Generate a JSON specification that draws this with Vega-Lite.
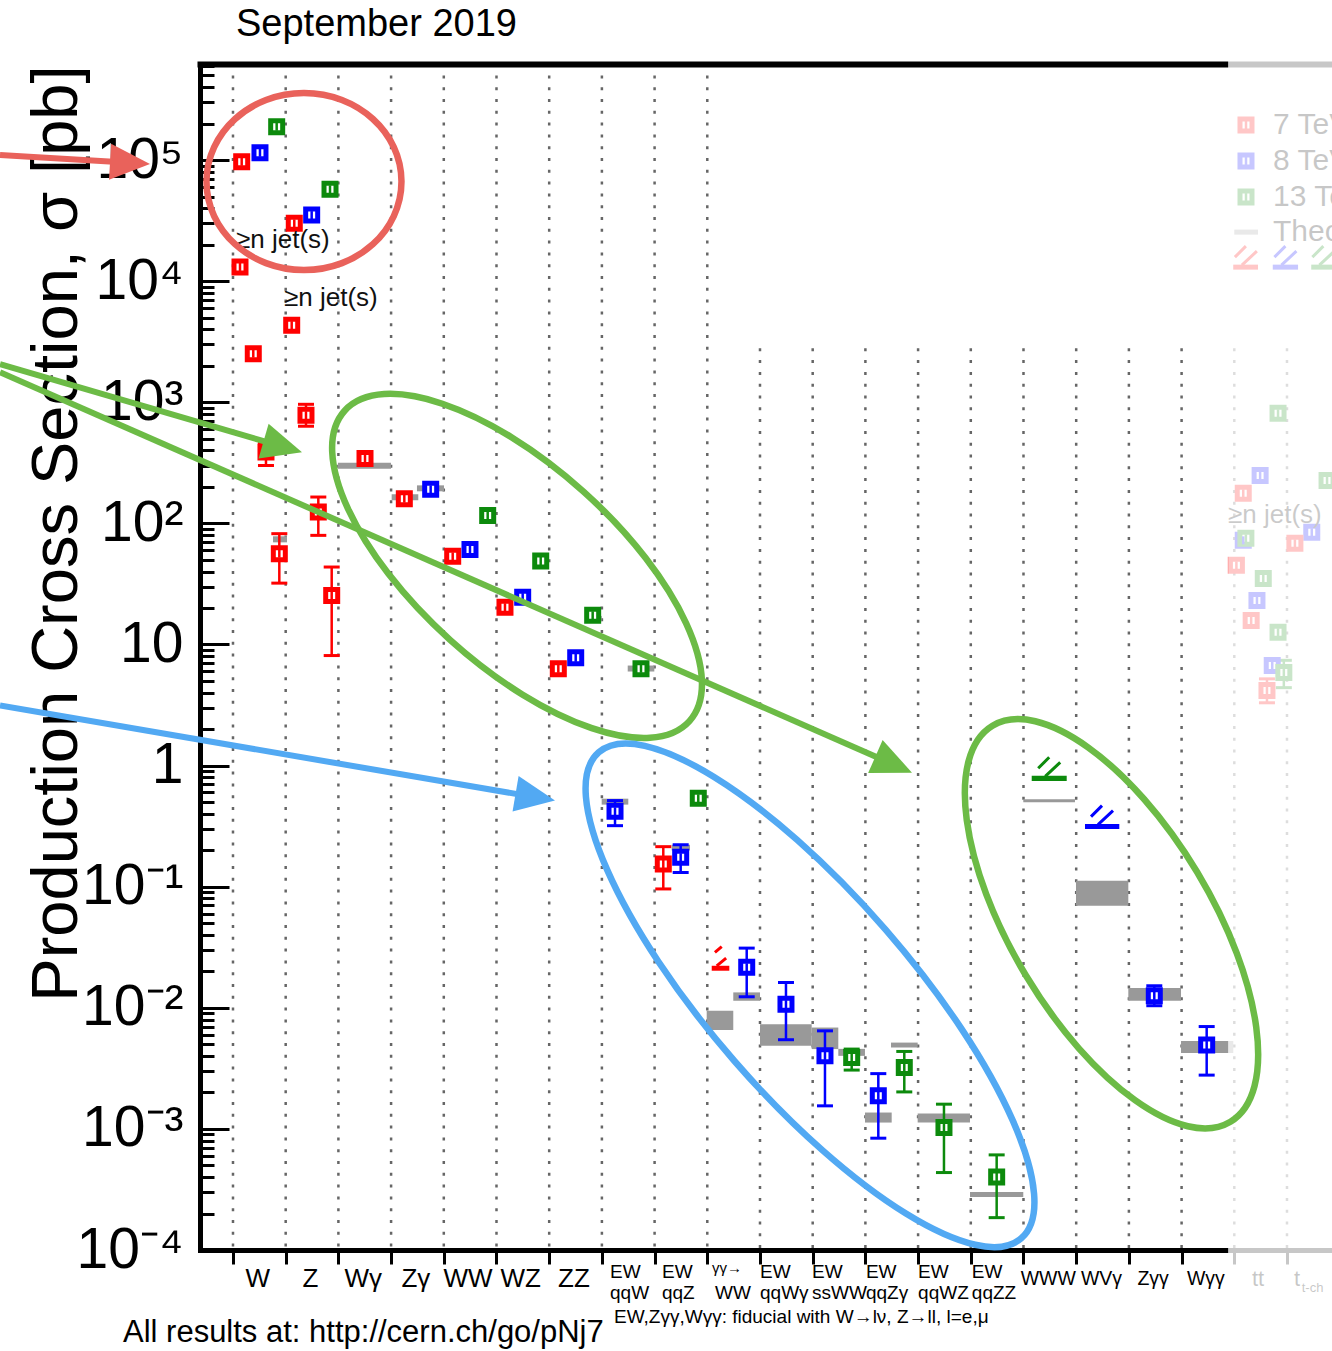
{
"$schema":"https://vega.github.io/schema/vega-lite/v6.json",
"width":1132,"height":1186,"autosize":"none",
"padding":{"left":200,"top":64,"right":0,"bottom":101},
"background":"white",
"config":{"view":{"stroke":null},"font":"Liberation Sans"},
"resolve":{"axis":{"x":"independent","y":"independent"}},
"datasets":{
"dots":[{"k":0,"top":500000},{"k":1,"top":500000},{"k":2,"top":500000},{"k":3,"top":500000},{"k":4,"top":500000},{"k":5,"top":500000},{"k":6,"top":500000},{"k":7,"top":500000},{"k":8,"top":500000},{"k":9,"top":500000},{"k":10,"top":2790},{"k":11,"top":2790},{"k":12,"top":2790},{"k":13,"top":2790},{"k":14,"top":2790},{"k":15,"top":2790},{"k":16,"top":2790},{"k":17,"top":2790},{"k":18,"top":2790},{"k":19,"top":2790},{"k":20,"top":2790}],
"th":[{"x1":1.992,"x2":2.998,"y1":282,"y2":316},{"x1":3.011,"x2":3.516,"y1":155,"y2":174},{"x1":3.491,"x2":4.004,"y1":184,"y2":206},{"x1":0.759,"x2":1.025,"y1":69.7,"y2":78.2},{"x1":6.679,"x2":6.996,"y1":15.6,"y2":17.2},{"x1":7.49,"x2":7.995,"y1":5.98,"y2":6.7},{"x1":6.996,"x2":7.501,"y1":0.476,"y2":0.533},{"x1":8.672,"x2":8.975,"y1":0.514,"y2":0.565},{"x1":8.324,"x2":8.672,"y1":0.199,"y2":0.222},{"x1":8.989,"x2":9.493,"y1":0.00655,"y2":0.00944},{"x1":9.493,"x2":10.0,"y1":0.01143,"y2":0.0134},{"x1":10.0,"x2":10.981,"y1":0.00485,"y2":0.00733},{"x1":10.981,"x2":11.486,"y1":0.00456,"y2":0.00687},{"x1":11.486,"x2":11.992,"y1":0.00401,"y2":0.00458},{"x1":11.992,"x2":12.499,"y1":0.001128,"y2":0.001365},{"x1":12.486,"x2":12.992,"y1":0.0047,"y2":0.00516},{"x1":12.992,"x2":13.985,"y1":0.001128,"y2":0.00134},{"x1":13.985,"x2":14.996,"y1":0.000274,"y2":0.000301},{"x1":14.996,"x2":15.977,"y1":0.499,"y2":0.528},{"x1":15.996,"x2":16.989,"y1":0.0697,"y2":0.1122},{"x1":16.989,"x2":17.989,"y1":0.01143,"y2":0.01455},{"x1":17.989,"x2":18.981,"y1":0.00423,"y2":0.00533}],
"pts":[{"x":0.165,"v":96800,"E":"7"},{"x":0.512,"v":114900,"E":"8"},{"x":0.829,"v":188400,"E":"13"},{"x":1.163,"v":30000,"E":"7"},{"x":1.493,"v":35100,"E":"8"},{"x":1.841,"v":57300,"E":"13"},{"x":0.133,"v":13100,"E":"7"},{"x":0.385,"v":2520,"E":"7"},{"x":0.626,"v":388,"E":"7","lo":301,"hi":458},{"x":0.879,"v":56.2,"E":"7","lo":32.1,"hi":82.2},{"x":1.114,"v":4330,"E":"7"},{"x":1.385,"v":782,"E":"7","lo":634,"hi":962},{"x":1.619,"v":124,"E":"7","lo":79.6,"hi":165},{"x":1.873,"v":25.4,"E":"7","lo":8.1,"hi":43.6},{"x":2.505,"v":343,"E":"7"},{"x":3.251,"v":160,"E":"7"},{"x":3.751,"v":191,"E":"8"},{"x":4.169,"v":53.4,"E":"7"},{"x":4.497,"v":60.7,"E":"8"},{"x":4.833,"v":116,"E":"13"},{"x":5.161,"v":20.3,"E":"7"},{"x":5.497,"v":24.6,"E":"8"},{"x":5.839,"v":48.9,"E":"13"},{"x":6.173,"v":6.3,"E":"7"},{"x":6.503,"v":7.76,"E":"8"},{"x":6.825,"v":17.4,"E":"13"},{"x":7.742,"v":6.3,"E":"13"},{"x":7.249,"v":0.419,"E":"8","lo":0.319,"hi":0.514},{"x":8.165,"v":0.154,"E":"7","lo":0.0958,"hi":0.214},{"x":8.495,"v":0.175,"E":"8","lo":0.131,"hi":0.222},{"x":8.829,"v":0.537,"E":"13"},{"x":9.748,"v":0.0216,"E":"8","lo":0.01233,"hi":0.0311},{"x":10.493,"v":0.01071,"E":"8","lo":0.00545,"hi":0.01618},{"x":11.233,"v":0.00401,"E":"8","lo":0.00155,"hi":0.00645},{"x":11.74,"v":0.00388,"E":"13","lo":0.00306,"hi":0.00456},{"x":12.245,"v":0.001875,"E":"8","lo":0.000838,"hi":0.00286},{"x":12.738,"v":0.00322,"E":"13","lo":0.00202,"hi":0.00436},{"x":13.491,"v":0.001026,"E":"13","lo":0.000436,"hi":0.0016},{"x":14.491,"v":0.000401,"E":"13","lo":0.000185,"hi":0.00061},{"x":17.482,"v":0.01256,"E":"8","lo":0.0104,"hi":0.0152},{"x":18.476,"v":0.00492,"E":"8","lo":0.00278,"hi":0.007},{"x":19.83,"v":811,"E":"13"},{"x":19.49,"v":249,"E":"8"},{"x":19.17,"v":177,"E":"7"},{"x":20.76,"v":226,"E":"13"},{"x":20.47,"v":84.4,"E":"8"},{"x":20.15,"v":68.4,"E":"7"},{"x":19.17,"v":72.4,"E":"8"},{"x":19.22,"v":75.2,"E":"13"},{"x":19.04,"v":45,"E":"7"},{"x":19.55,"v":35.1,"E":"13"},{"x":19.43,"v":23.1,"E":"8"},{"x":19.32,"v":15.8,"E":"7"},{"x":19.83,"v":12.6,"E":"13"},{"x":19.72,"v":6.7,"E":"8"},{"x":19.62,"v":4.17,"E":"7","lo":3.3,"hi":5.2},{"x":19.94,"v":5.87,"E":"13","lo":4.4,"hi":7.4}],
"lim":[{"x1":9.084,"x2":9.418,"y1":0.02023,"y2":0.02223,"xc":9.251,"yc":0.0212,"E":"7"},{"x1":15.156,"x2":15.82,"y1":0.745,"y2":0.826,"xc":15.488,"yc":0.785,"E":"13"},{"x1":16.167,"x2":16.818,"y1":0.2988,"y2":0.329,"xc":16.49,"yc":0.313,"E":"8"},{"x1":18.98,"x2":19.45,"y1":12450,"y2":13690,"xc":19.22,"yc":13050,"E":"7"},{"x1":19.73,"x2":20.21,"y1":12450,"y2":13690,"xc":19.97,"yc":13050,"E":"8"},{"x1":20.46,"x2":20.93,"y1":12450,"y2":13690,"xc":20.69,"yc":13050,"E":"13"}],
"jets":[{"x":0.057,"y":21820,"t":"≥n jet(s)"},{"x":0.968,"y":7238,"t":"≥n jet(s)"},{"x":18.88,"y":116.4,"t":"≥n jet(s)"}],
"leg":[{"x":19.222,"v":194700,"E":"7","t":"7 TeV"},{"x":19.222,"v":98100,"E":"8","t":"8 TeV"},{"x":19.222,"v":49450,"E":"13","t":"13 TeV"}],
"cats":[{"g":"a","x":0.47,"t":"W"},{"g":"a","x":1.47,"t":"Z"},{"g":"a","x":2.47,"t":"Wγ"},{"g":"a","x":3.47,"t":"Zγ"},{"g":"a","x":4.46,"t":"WW"},{"g":"a","x":5.46,"t":"WZ"},{"g":"a","x":6.47,"t":"ZZ"},
{"g":"b1","x":7.154,"t":"EW"},{"g":"b1","x":8.14,"t":"EW"},{"g":"b1","x":10.0,"t":"EW"},{"g":"b1","x":10.987,"t":"EW"},{"g":"b1","x":12.01,"t":"EW"},{"g":"b1","x":13.0,"t":"EW"},{"g":"b1","x":14.02,"t":"EW"},
{"g":"b2","x":7.154,"t":"qqW"},{"g":"b2","x":8.14,"t":"qqZ"},{"g":"b2","x":9.146,"t":"WW"},{"g":"b2","x":10.0,"t":"qqWγ"},{"g":"b2","x":10.987,"t":"ssWW"},{"g":"b2","x":12.01,"t":"qqZγ"},{"g":"b2","x":13.0,"t":"qqWZ"},{"g":"b2","x":14.02,"t":"qqZZ"},
{"g":"c","x":9.09,"t":"γγ→"},
{"g":"d","x":15.47,"t":"WWW"},{"g":"d","x":16.48,"t":"WVγ"},{"g":"d","x":17.46,"t":"Zγγ"},{"g":"d","x":18.46,"t":"Wγγ"},
{"g":"e","x":19.45,"t":"tt"},{"g":"e","x":20.19,"t":"t"},{"g":"f","x":20.28,"t":"t-ch"}],
"ell":[{"n":"r","x":1.347,"y":66400},{"n":"g1","x":5.39,"y":44.5},{"n":"b","x":10.949,"y":0.01268},{"n":"g2","x":16.67,"y":0.0494}],
"arr":[{"n":"r","x":-4.421,"y":110000},{"n":"r","x":-1.954,"y":94800},{"n":"g1","x":-4.421,"y":2061},{"n":"g1","x":0.945,"y":429.6},{"n":"g2","x":-4.421,"y":1770},{"n":"g2","x":12.537,"y":1.019},{"n":"b","x":-4.421,"y":3.132},{"n":"b","x":5.736,"y":0.548}],
"head":[{"n":"r","x":-1.954,"y":94800},{"n":"g1","x":0.945,"y":429.6},{"n":"g2","x":12.537,"y":1.019},{"n":"b","x":5.736,"y":0.548}]
},
"layer":[
{"data":{"name":"dots"},"mark":{"type":"rule","strokeDash":[3,8.8],"strokeWidth":2.5,"color":"#666666"},
 "encoding":{
  "x":{"field":"k","type":"quantitative","scale":{"domain":[-0.626,20.854],"nice":false,"zero":false},
   "axis":{"orient":"bottom","values":[0,1,2,3,4,5,6,7,8,9,10,11,12,13,14,15,16,17,18,19,20],"labels":false,"ticks":true,"tickSize":14,"tickWidth":3,"tickColor":"black","domain":true,"domainWidth":5,"domainColor":"black","domainCap":"square","grid":false,"title":null}},
  "y":{"field":"top","type":"quantitative","scale":{"type":"log","domain":[0.0001,621000],"nice":false},
   "axis":{"orient":"left","values":[0.0001,0.0002,0.0003,0.0004,0.0005,0.0006,0.0007,0.0008,0.0009,0.001,0.002,0.003,0.004,0.005,0.006,0.007,0.008,0.009,0.01,0.02,0.03,0.04,0.05,0.06,0.07,0.08,0.09,0.1,0.2,0.3,0.4,0.5,0.6,0.7,0.8,0.9,1,2,3,4,5,6,7,8,9,10,20,30,40,50,60,70,80,90,100,200,300,400,500,600,700,800,900,1000,2000,3000,4000,5000,6000,7000,8000,9000,10000,20000,30000,40000,50000,60000,70000,80000,90000,100000,200000,300000,400000,500000,600000],
    "labelExpr":"datum.value == 100000 ? '10⁵' : datum.value == 10000 ? '10⁴' : datum.value == 1000 ? '10³' : datum.value == 100 ? '10²' : datum.value == 10 ? '10' : datum.value == 1 ? '1' : datum.value == 0.1 ? '10⁻¹' : datum.value == 0.01 ? '10⁻²' : datum.value == 0.001 ? '10⁻³' : datum.value == 0.0001 ? '10⁻⁴' : ''",
    "labelFontSize":57,"labelFont":"Liberation Sans","labelColor":"black","labelPadding":46,"labelAlign":"right","labelBaseline":"middle","labelOverlap":false,"labelFlush":false,"labelBound":false,
    "tickSize":{"condition":{"test":"indexof([0.0001,0.001,0.01,0.1,1,10,100,1000,10000,100000], datum.value) >= 0","value":-29},"value":-14},
    "tickWidth":3,"tickColor":"black","domain":true,"domainWidth":5,"domainColor":"black","domainCap":"square","grid":false,
    "title":"Production Cross Section,  σ [pb]","titleFont":"Liberation Sans","titleFontSize":65,"titleFontWeight":"normal","titleColor":"black","titleAngle":-90,"titleAlign":"right","titleBaseline":"alphabetic","titleX":-124,"titleY":1}},
  "y2":{"datum":0.0001}}},
{"data":{"name":"th"},"mark":{"type":"rect","color":"#999999"},
 "encoding":{
  "x":{"field":"x1","type":"quantitative","axis":{"orient":"top","labels":false,"ticks":false,"domain":true,"domainWidth":6,"domainColor":"black","domainCap":"square","grid":false,"title":null}},
  "x2":{"field":"x2"},
  "y":{"field":"y1","type":"quantitative","scale":{"type":"log"},"axis":null},
  "y2":{"field":"y2"}}},
{"data":{"name":"pts"},"transform":[{"filter":"isValid(datum.lo)"}],"mark":{"type":"rule","strokeWidth":2.5},
 "encoding":{"x":{"field":"x","type":"quantitative","axis":null},"y":{"field":"lo","type":"quantitative","scale":{"type":"log"},"axis":null},"y2":{"field":"hi"},
  "color":{"field":"E","type":"nominal","scale":{"domain":["7","8","13"],"range":["#ff0000","#0000ff","#0c8a0c"]},"legend":null}}},
{"data":{"name":"pts"},"transform":[{"filter":"isValid(datum.lo)"}],"mark":{"type":"tick","orient":"horizontal","size":16,"thickness":3,"opacity":1},
 "encoding":{"x":{"field":"x","type":"quantitative","axis":null},"y":{"field":"lo","type":"quantitative","scale":{"type":"log"},"axis":null},
  "color":{"field":"E","type":"nominal","scale":{"domain":["7","8","13"],"range":["#ff0000","#0000ff","#0c8a0c"]},"legend":null}}},
{"data":{"name":"pts"},"transform":[{"filter":"isValid(datum.hi)"}],"mark":{"type":"tick","orient":"horizontal","size":16,"thickness":3,"opacity":1},
 "encoding":{"x":{"field":"x","type":"quantitative","axis":null},"y":{"field":"hi","type":"quantitative","scale":{"type":"log"},"axis":null},
  "color":{"field":"E","type":"nominal","scale":{"domain":["7","8","13"],"range":["#ff0000","#0000ff","#0c8a0c"]},"legend":null}}},
{"data":{"name":"pts"},"mark":{"type":"point","shape":"square","filled":true,"fill":"white","size":144,"strokeWidth":5,"opacity":1},
 "encoding":{"x":{"field":"x","type":"quantitative","axis":null},"y":{"field":"v","type":"quantitative","scale":{"type":"log"},"axis":null},
  "stroke":{"field":"E","type":"nominal","scale":{"domain":["7","8","13"],"range":["#ff0000","#0000ff","#0c8a0c"]},"legend":null}}},
{"data":{"name":"pts"},"mark":{"type":"tick","orient":"vertical","size":8,"thickness":2.5,"opacity":1},
 "encoding":{"x":{"field":"x","type":"quantitative","axis":null},"y":{"field":"v","type":"quantitative","scale":{"type":"log"},"axis":null},
  "color":{"field":"E","type":"nominal","scale":{"domain":["7","8","13"],"range":["#ff0000","#0000ff","#0c8a0c"]},"legend":null}}},
{"data":{"name":"lim"},"mark":{"type":"rect"},
 "encoding":{"x":{"field":"x1","type":"quantitative","axis":null},"x2":{"field":"x2"},"y":{"field":"y1","type":"quantitative","scale":{"type":"log"},"axis":null},"y2":{"field":"y2"},
  "color":{"field":"E","type":"nominal","scale":{"domain":["7","8","13"],"range":["#ff0000","#0000ff","#0c8a0c"]},"legend":null}}},
{"data":{"name":"lim"},"transform":[{"filter":"datum.xc < 10"}],"mark":{"type":"point","shape":"M -0.19 -0.12 L 0.28 -0.51 M -0.28 -0.79 L 0.06 -1.08","filled":false,"size":1600,"strokeWidth":3,"opacity":1},
 "encoding":{"x":{"field":"xc","type":"quantitative","axis":null},"y":{"field":"yc","type":"quantitative","scale":{"type":"log"},"axis":null},
  "stroke":{"field":"E","type":"nominal","scale":{"domain":["7","8","13"],"range":["#ff0000","#0000ff","#0c8a0c"]},"legend":null}}},
{"data":{"name":"lim"},"transform":[{"filter":"datum.xc >= 10"}],"mark":{"type":"point","shape":"M -0.2 -0.1 L 0.55 -0.8 M -0.55 -0.5 L 0 -1.05","filled":false,"size":1600,"strokeWidth":3,"opacity":1},
 "encoding":{"x":{"field":"xc","type":"quantitative","axis":null},"y":{"field":"yc","type":"quantitative","scale":{"type":"log"},"axis":null},
  "stroke":{"field":"E","type":"nominal","scale":{"domain":["7","8","13"],"range":["#ff0000","#0000ff","#0c8a0c"]},"legend":null}}},
{"data":{"name":"jets"},"mark":{"type":"text","fontSize":26,"align":"left","baseline":"middle","color":"#111111"},
 "encoding":{"x":{"field":"x","type":"quantitative","axis":null},"y":{"field":"y","type":"quantitative","scale":{"type":"log"},"axis":null},"text":{"field":"t"}}},
{"data":{"name":"leg"},"mark":{"type":"point","shape":"square","filled":true,"fill":"white","size":144,"strokeWidth":5,"opacity":1},
 "encoding":{"x":{"field":"x","type":"quantitative","axis":null},"y":{"field":"v","type":"quantitative","scale":{"type":"log"},"axis":null},
  "stroke":{"field":"E","type":"nominal","scale":{"domain":["7","8","13"],"range":["#ff0000","#0000ff","#0c8a0c"]},"legend":null}}},
{"data":{"name":"leg"},"mark":{"type":"tick","orient":"vertical","size":8,"thickness":2.5,"opacity":1},
 "encoding":{"x":{"field":"x","type":"quantitative","axis":null},"y":{"field":"v","type":"quantitative","scale":{"type":"log"},"axis":null},
  "color":{"field":"E","type":"nominal","scale":{"domain":["7","8","13"],"range":["#ff0000","#0000ff","#0c8a0c"]},"legend":null}}},
{"data":{"name":"leg"},"mark":{"type":"text","fontSize":30,"align":"left","baseline":"middle","color":"black"},
 "encoding":{"x":{"datum":19.734,"type":"quantitative","axis":null},"y":{"field":"v","type":"quantitative","scale":{"type":"log"},"axis":null},"text":{"field":"t"}}},
{"data":{"values":[{}]},"mark":{"type":"text","fontSize":30,"align":"left","baseline":"middle","color":"black","text":"Theory"},
 "encoding":{"x":{"datum":19.734,"type":"quantitative","axis":null},"y":{"datum":25410,"type":"quantitative","scale":{"type":"log"},"axis":null}}},
{"data":{"values":[{}]},"mark":{"type":"rule","strokeWidth":5,"color":"#999999"},
 "encoding":{"x":{"datum":19.0,"type":"quantitative","axis":null},"x2":{"datum":19.45},"y":{"datum":25410,"type":"quantitative","scale":{"type":"log"},"axis":null}}},
{"data":{"name":"cats"},"transform":[{"filter":"datum.g == 'a'"}],"mark":{"type":"text","fontSize":26,"align":"center","baseline":"middle","color":"black"},
 "encoding":{"x":{"field":"x","type":"quantitative","axis":null},"y":{"datum":5.757e-5,"type":"quantitative","scale":{"type":"log"},"axis":null},"text":{"field":"t"}}},
{"data":{"name":"cats"},"transform":[{"filter":"datum.g == 'b1'"}],"mark":{"type":"text","fontSize":19,"align":"left","baseline":"middle","color":"black"},
 "encoding":{"x":{"field":"x","type":"quantitative","axis":null},"y":{"datum":6.577e-5,"type":"quantitative","scale":{"type":"log"},"axis":null},"text":{"field":"t"}}},
{"data":{"name":"cats"},"transform":[{"filter":"datum.g == 'b2'"}],"mark":{"type":"text","fontSize":19,"align":"left","baseline":"middle","color":"black"},
 "encoding":{"x":{"field":"x","type":"quantitative","axis":null},"y":{"datum":4.411e-5,"type":"quantitative","scale":{"type":"log"},"axis":null},"text":{"field":"t"}}},
{"data":{"name":"cats"},"transform":[{"filter":"datum.g == 'c'"}],"mark":{"type":"text","fontSize":15,"align":"left","baseline":"middle","color":"black"},
 "encoding":{"x":{"field":"x","type":"quantitative","axis":null},"y":{"datum":7.1e-5,"type":"quantitative","scale":{"type":"log"},"axis":null},"text":{"field":"t"}}},
{"data":{"name":"cats"},"transform":[{"filter":"datum.g == 'd'"}],"mark":{"type":"text","fontSize":19.5,"align":"center","baseline":"middle","color":"black"},
 "encoding":{"x":{"field":"x","type":"quantitative","axis":null},"y":{"datum":5.757e-5,"type":"quantitative","scale":{"type":"log"},"axis":null},"text":{"field":"t"}}},
{"data":{"name":"cats"},"transform":[{"filter":"datum.g == 'e'"}],"mark":{"type":"text","fontSize":22,"align":"center","baseline":"middle","color":"black"},
 "encoding":{"x":{"field":"x","type":"quantitative","axis":null},"y":{"datum":5.757e-5,"type":"quantitative","scale":{"type":"log"},"axis":null},"text":{"field":"t"}}},
{"data":{"name":"cats"},"transform":[{"filter":"datum.g == 'f'"}],"mark":{"type":"text","fontSize":13,"align":"left","baseline":"middle","color":"black"},
 "encoding":{"x":{"field":"x","type":"quantitative","axis":null},"y":{"datum":4.853e-5,"type":"quantitative","scale":{"type":"log"},"axis":null},"text":{"field":"t"}}},
{"data":{"values":[{}]},"mark":{"type":"text","fontSize":38,"align":"left","baseline":"middle","color":"black","text":"September 2019"},
 "encoding":{"x":{"datum":0.057,"type":"quantitative","axis":null},"y":{"datum":1305000,"type":"quantitative","scale":{"type":"log"},"axis":null}}},
{"data":{"values":[{}]},"mark":{"type":"text","fontSize":31,"align":"left","baseline":"middle","color":"black","text":"All results at: http://cern.ch/go/pNj7"},
 "encoding":{"x":{"datum":-2.087,"type":"quantitative","axis":null},"y":{"datum":2.061e-5,"type":"quantitative","scale":{"type":"log"},"axis":null}}},
{"data":{"values":[{}]},"mark":{"type":"text","fontSize":19,"align":"left","baseline":"middle","color":"black","text":"EW,Zγγ,Wγγ: fiducial with W→lν, Z→ll, l=e,μ"},
 "encoding":{"x":{"datum":7.23,"type":"quantitative","axis":null},"y":{"datum":2.794e-5,"type":"quantitative","scale":{"type":"log"},"axis":null}}},
{"data":{"values":[{}]},"mark":{"type":"rect","color":"white","opacity":0.78},
 "encoding":{"x":{"datum":18.883,"type":"quantitative","axis":null},"x2":{"datum":22},"y":{"datum":10000000,"type":"quantitative","scale":{"type":"log"},"axis":null},"y2":{"datum":0.00001}}},
{"data":{"name":"ell"},"transform":[{"filter":"datum.n == 'r'"}],"mark":{"type":"point","shape":"M -1 0 A 1 0.908 0 1 1 1 0 A 1 0.908 0 1 1 -1 0 Z","filled":false,"size":38025,"strokeWidth":6.5,"color":"#e9625b","opacity":1},
 "encoding":{"x":{"field":"x","type":"quantitative","axis":null},"y":{"field":"y","type":"quantitative","scale":{"type":"log"},"axis":null}}},
{"data":{"name":"ell"},"transform":[{"filter":"datum.n == 'g1'"}],"mark":{"type":"point","shape":"M -1 0 A 1 0.43 0 1 1 1 0 A 1 0.43 0 1 1 -1 0 Z","filled":false,"size":215296,"angle":42,"strokeWidth":6.5,"color":"#6cbb46","opacity":1},
 "encoding":{"x":{"field":"x","type":"quantitative","axis":null},"y":{"field":"y","type":"quantitative","scale":{"type":"log"},"axis":null}}},
{"data":{"name":"ell"},"transform":[{"filter":"datum.n == 'b'"}],"mark":{"type":"point","shape":"M -1 0 A 1 0.311 0 1 1 1 0 A 1 0.311 0 1 1 -1 0 Z","filled":false,"size":414736,"angle":49,"strokeWidth":6.5,"color":"#52a9f3","opacity":1},
 "encoding":{"x":{"field":"x","type":"quantitative","axis":null},"y":{"field":"y","type":"quantitative","scale":{"type":"log"},"axis":null}}},
{"data":{"name":"ell"},"transform":[{"filter":"datum.n == 'g2'"}],"mark":{"type":"point","shape":"M -1 0 A 1 0.433 0 1 1 1 0 A 1 0.433 0 1 1 -1 0 Z","filled":false,"size":213444,"angle":59,"strokeWidth":6.5,"color":"#6cbb46","opacity":1},
 "encoding":{"x":{"field":"x","type":"quantitative","axis":null},"y":{"field":"y","type":"quantitative","scale":{"type":"log"},"axis":null}}},
{"data":{"name":"arr"},"transform":[{"filter":"datum.n == 'r'"}],"mark":{"type":"line","strokeWidth":6,"color":"#e9625b"},
 "encoding":{"x":{"field":"x","type":"quantitative","axis":null},"y":{"field":"y","type":"quantitative","scale":{"type":"log"},"axis":null}}},
{"data":{"name":"arr"},"transform":[{"filter":"datum.n == 'g1' || datum.n == 'g2'"}],"mark":{"type":"line","strokeWidth":6,"color":"#6cbb46"},
 "encoding":{"x":{"field":"x","type":"quantitative","axis":null},"y":{"field":"y","type":"quantitative","scale":{"type":"log"},"axis":null},"detail":{"field":"n"}}},
{"data":{"name":"arr"},"transform":[{"filter":"datum.n == 'b'"}],"mark":{"type":"line","strokeWidth":6,"color":"#52a9f3"},
 "encoding":{"x":{"field":"x","type":"quantitative","axis":null},"y":{"field":"y","type":"quantitative","scale":{"type":"log"},"axis":null}}},
{"data":{"name":"head"},"transform":[{"filter":"datum.n == 'r'"}],"mark":{"type":"point","shape":"M 1 0 L -1 -0.9 L -1 0.9 Z","filled":true,"size":1600,"angle":3.4,"color":"#e9625b","opacity":1,"strokeWidth":0},
 "encoding":{"x":{"field":"x","type":"quantitative","axis":null},"y":{"field":"y","type":"quantitative","scale":{"type":"log"},"axis":null}}},
{"data":{"name":"head"},"transform":[{"filter":"datum.n == 'g1'"}],"mark":{"type":"point","shape":"M 1 0 L -1 -0.9 L -1 0.9 Z","filled":true,"size":1600,"angle":16.2,"color":"#6cbb46","opacity":1,"strokeWidth":0},
 "encoding":{"x":{"field":"x","type":"quantitative","axis":null},"y":{"field":"y","type":"quantitative","scale":{"type":"log"},"axis":null}}},
{"data":{"name":"head"},"transform":[{"filter":"datum.n == 'g2'"}],"mark":{"type":"point","shape":"M 1 0 L -1 -0.9 L -1 0.9 Z","filled":true,"size":1600,"angle":23.7,"color":"#6cbb46","opacity":1,"strokeWidth":0},
 "encoding":{"x":{"field":"x","type":"quantitative","axis":null},"y":{"field":"y","type":"quantitative","scale":{"type":"log"},"axis":null}}},
{"data":{"name":"head"},"transform":[{"filter":"datum.n == 'b'"}],"mark":{"type":"point","shape":"M 1 0 L -1 -0.9 L -1 0.9 Z","filled":true,"size":1600,"angle":9.7,"color":"#52a9f3","opacity":1,"strokeWidth":0},
 "encoding":{"x":{"field":"x","type":"quantitative","axis":null},"y":{"field":"y","type":"quantitative","scale":{"type":"log"},"axis":null}}}
]
}
